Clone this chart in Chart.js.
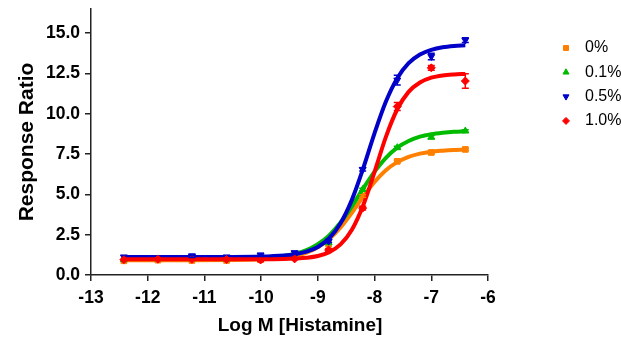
<!DOCTYPE html>
<html>
<head>
<meta charset="utf-8">
<script src="https://cdn.jsdelivr.net/npm/chart.js@4/dist/chart.umd.min.js"></script>
<style>
  html, body { margin: 0; padding: 0; background: #fff; }
  #wrap { position: relative; width: 621px; height: 337px; }
</style>
</head>
<body>
<div id="wrap"><canvas id="c" width="621" height="337"></canvas></div>
<script>
// Histamine concentration (log M), 4-fold dilution series
const logConc = [-12.42, -11.82, -11.22, -10.61, -10.01, -9.41, -8.81, -8.21, -7.60, -7.00, -6.40];

const seriesLabels = ['0%', '0.1%', '0.5%', '1.0%'];
const seriesColors = ['#ff8000', '#00bb00', '#0000c8', '#ff0000'];
const seriesMarkers = ['rect', 'triangle', 'triangle', 'rectRot'];
const markerRotation = [0, 0, 180, 0];

// Mean response ratio per concentration
const resp0  = [0.88, 0.92, 0.90, 0.90, 0.95, 1.10, 1.90, 4.90, 7.05, 7.60, 7.79];
const resp01 = [0.95, 1.00, 1.00, 0.98, 1.00, 1.20, 2.00, 5.30, 7.90, 8.55, 8.93];
const resp05 = [1.12, 1.08, 1.18, 1.12, 1.24, 1.38, 2.10, 6.55, 12.09, 13.55, 14.57];
const resp10 = [0.95, 0.98, 0.97, 0.96, 0.93, 1.00, 1.55, 4.15, 10.45, 12.85, 12.03];

// SEM per concentration
const sem0  = [0.03, 0.03, 0.03, 0.03, 0.03, 0.05, 0.05, 0.08, 0.08, 0.08, 0.08];
const sem01 = [0.03, 0.03, 0.03, 0.03, 0.03, 0.05, 0.05, 0.08, 0.08, 0.10, 0.08];
const sem05 = [0.05, 0.05, 0.10, 0.05, 0.10, 0.10, 0.08, 0.10, 0.30, 0.20, 0.15];
const sem10 = [0.03, 0.03, 0.03, 0.05, 0.10, 0.05, 0.08, 0.12, 0.25, 0.15, 0.45];

// Fitted dose-response curves, sampled along log M
const curveX = [-12.42, -11.5, -10.5, -10.0, -9.6, -9.4, -9.2, -9.0, -8.8, -8.6, -8.4,
                -8.2, -8.0, -7.8, -7.6, -7.4, -7.2, -7.0, -6.8, -6.6, -6.4];
const fit0  = [0.92, 0.92, 0.93, 0.97, 1.07, 1.19, 1.39, 1.72, 2.23, 2.95, 3.86,
               4.86, 5.77, 6.50, 7.00, 7.33, 7.53, 7.65, 7.71, 7.75, 7.77];
const fit01 = [1.00, 1.00, 1.02, 1.06, 1.18, 1.32, 1.54, 1.91, 2.46, 3.25, 4.26,
               5.37, 6.41, 7.27, 7.90, 8.31, 8.58, 8.73, 8.82, 8.88, 8.91];
const fit05 = [1.12, 1.12, 1.12, 1.14, 1.21, 1.29, 1.45, 1.74, 2.28, 3.21, 4.66,
               6.62, 8.80, 10.76, 12.21, 13.14, 13.68, 13.97, 14.13, 14.21, 14.25];
const fit10 = [0.97, 0.97, 0.97, 0.97, 0.99, 1.02, 1.07, 1.18, 1.42, 1.90, 2.81,
               4.33, 6.40, 8.57, 10.28, 11.36, 11.94, 12.24, 12.38, 12.44, 12.47];

const xTicks = [-13, -12, -11, -10, -9, -8, -7, -6];
const yTicks = [0, 2.5, 5, 7.5, 10, 12.5, 15];

const xTitle = 'Log M [Histamine]';
const yTitle = 'Response Ratio';

const respSets = [resp0, resp01, resp05, resp10];
const semSets = [sem0, sem01, sem05, sem10];
const fitSets = [fit0, fit01, fit05, fit10];

const FONT = '"Liberation Sans", Arial, sans-serif';
const AXIS = '#222';

// Drawing order: 1.0% on top, then 0.5%, 0.1%, 0%
const stackOrder = [3, 2, 1, 0];

const datasets = [];
seriesLabels.forEach((lab, i) => {
  datasets.push({
    label: lab + ' fit',
    data: curveX.map((x, k) => ({ x: x, y: fitSets[i][k] })),
    borderColor: seriesColors[i],
    borderWidth: 4,
    pointRadius: 0,
    fill: false,
    cubicInterpolationMode: 'monotone',
    order: stackOrder[i] * 2
  });
  datasets.push({
    label: lab,
    data: logConc.map((x, k) => ({ x: x, y: respSets[i][k] })),
    sem: semSets[i],
    showLine: false,
    pointStyle: seriesMarkers[i],
    rotation: markerRotation[i],
    pointRadius: 4,
    pointBackgroundColor: seriesColors[i],
    pointBorderColor: seriesColors[i],
    pointBorderWidth: 1,
    order: stackOrder[i] * 2 + 1
  });
});

// Error bars drawn from each point's SEM through the chart's scales
const errorBars = {
  id: 'errorBars',
  afterDatasetsDraw(chart) {
    const ctx = chart.ctx;
    const xs = chart.scales.x, ys = chart.scales.y;
    chart.data.datasets.forEach((ds) => {
      if (!ds.sem) return;
      ctx.save();
      ctx.strokeStyle = ds.pointBackgroundColor;
      ctx.lineWidth = 1.5;
      ds.data.forEach((p, k) => {
        const e = ds.sem[k];
        const px = xs.getPixelForValue(p.x);
        const y1 = ys.getPixelForValue(p.y + e);
        const y2 = ys.getPixelForValue(p.y - e);
        if (Math.abs(y2 - y1) < 2) return;
        ctx.beginPath();
        ctx.moveTo(px, y1); ctx.lineTo(px, y2);
        ctx.moveTo(px - 3.5, y1); ctx.lineTo(px + 3.5, y1);
        ctx.moveTo(px - 3.5, y2); ctx.lineTo(px + 3.5, y2);
        ctx.stroke();
      });
      ctx.restore();
    });
  }
};

// Legend at the right of the plot, and the x-axis title under the ticks
const sideText = {
  id: 'sideText',
  afterDraw(chart) {
    const ctx = chart.ctx;
    const x0 = 566, textX = 585, y0 = 48, step = 24.3;
    ctx.save();
    seriesLabels.forEach((lab, i) => {
      const y = y0 + i * step;
      ctx.fillStyle = seriesColors[i];
      ctx.strokeStyle = seriesColors[i];
      ctx.lineWidth = 1;
      Chart.helpers.drawPoint(ctx, {
        pointStyle: seriesMarkers[i], rotation: markerRotation[i],
        radius: 3.5, borderWidth: 1
      }, x0, y);
      ctx.fillStyle = '#000';
      ctx.font = '16px ' + FONT;
      ctx.textBaseline = 'middle';
      ctx.textAlign = 'left';
      ctx.fillText(lab, textX, y);
    });
    ctx.font = 'bold 19px ' + FONT;
    ctx.textAlign = 'center';
    ctx.textBaseline = 'middle';
    ctx.fillStyle = '#000';
    ctx.fillText(xTitle, 300, 326);
    ctx.restore();
  }
};

new Chart(document.getElementById('c'), {
  type: 'line',
  data: { datasets: datasets },
  plugins: [errorBars, sideText],
  options: {
    responsive: false,
    animation: false,
    layout: { padding: { top: 9, right: 133, bottom: 0, left: 0 } },
    plugins: { legend: { display: false }, tooltip: { enabled: false } },
    scales: {
      x: {
        type: 'linear',
        min: -13, max: -6,
        afterFit(s) { s.height = 62; s.paddingLeft = 0; s.paddingRight = 0; },
        afterBuildTicks(s) { s.ticks = xTicks.map(v => ({ value: v })); },
        grid: { drawOnChartArea: false, drawTicks: true, tickLength: 6, color: AXIS, lineWidth: 1.5 },
        border: { display: true, color: AXIS, width: 1.5 },
        ticks: {
          color: '#000', padding: 7,
          font: { family: FONT, size: 17.5, weight: 'bold' },
          callback: v => String(v)
        },
        title: { display: false }
      },
      y: {
        type: 'linear',
        min: 0, max: 16.5,
        afterFit(s) { s.width = 91; s.paddingTop = 0; s.paddingBottom = 0; },
        afterBuildTicks(s) { s.ticks = yTicks.map(v => ({ value: v })); },
        grid: { drawOnChartArea: false, drawTicks: true, tickLength: 6, color: AXIS, lineWidth: 1.5 },
        border: { display: true, color: AXIS, width: 1.5 },
        ticks: {
          color: '#000', padding: 5,
          font: { family: FONT, size: 17.5, weight: 'bold' },
          callback: v => Number(v).toFixed(1)
        },
        title: {
          display: true, text: yTitle, color: '#000',
          font: { family: FONT, size: 21, weight: 'bold' },
          padding: { top: 14.5, bottom: 0 }
        }
      }
    }
  }
});
</script>
</body>
</html>
